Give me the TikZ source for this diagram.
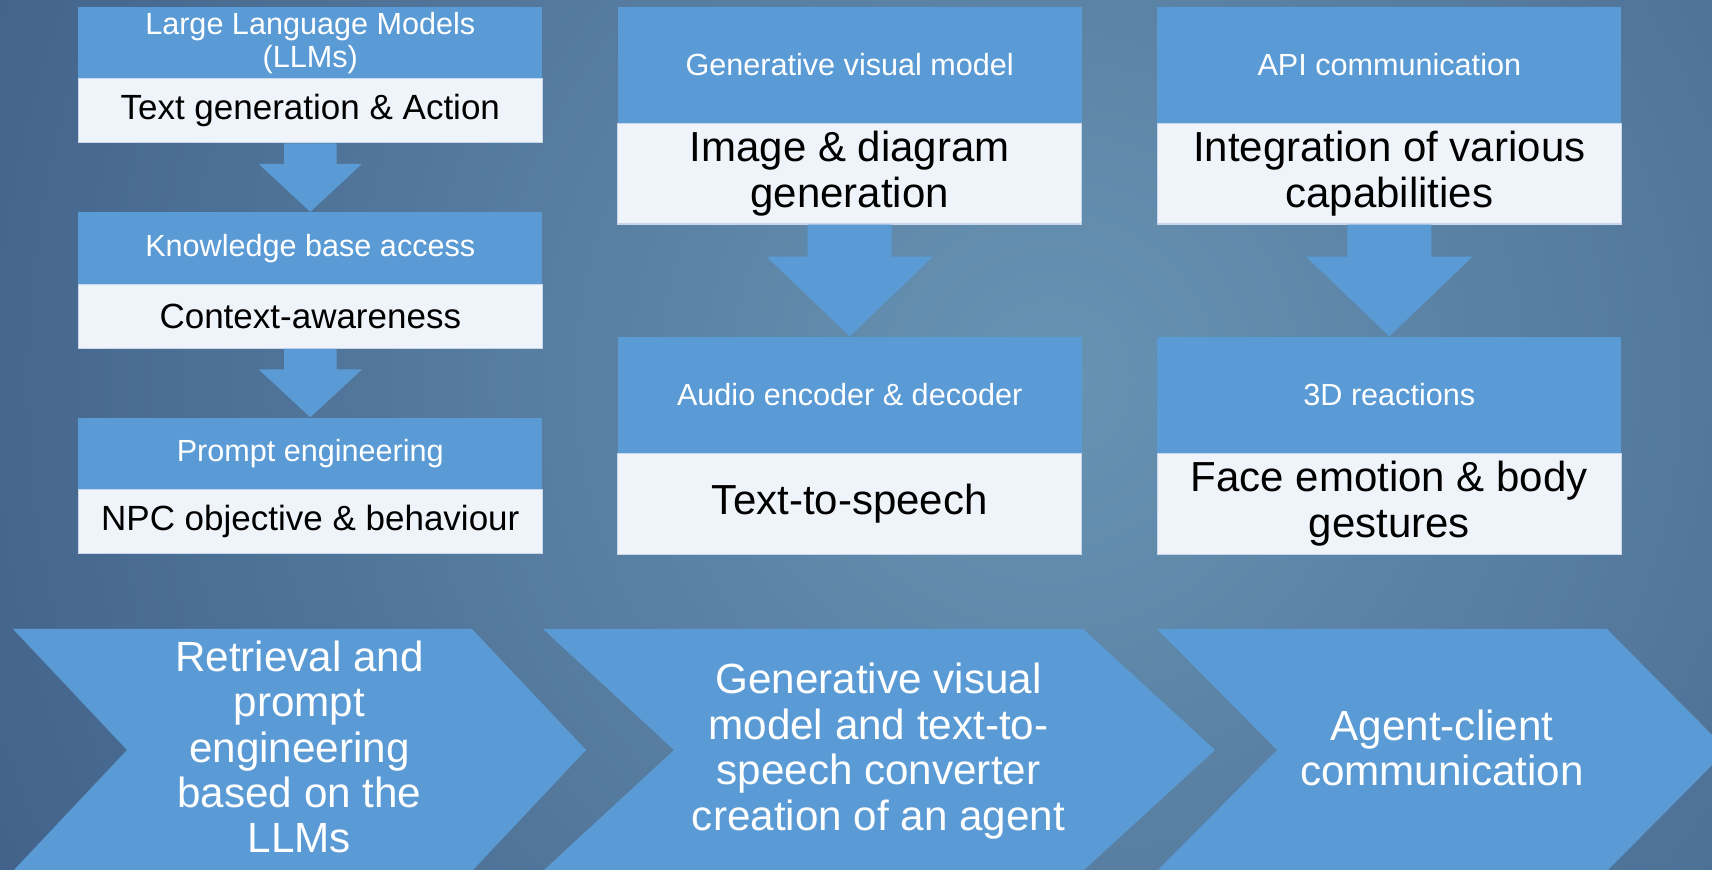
\documentclass[tikz,border=0pt]{standalone}
\usepackage{fontspec}
\setmainfont{Liberation Sans}
\usetikzlibrary{calc}
\definecolor{bgin}{HTML}{6893B3}
\definecolor{bgout}{HTML}{34507A}
\definecolor{hdr}{HTML}{5B9BD5}
\definecolor{wfill}{HTML}{EFF3FA}
\definecolor{wline}{HTML}{C8D6EA}
\pgfdeclareradialshading{bgshade}{\pgfpoint{0bp}{0bp}}{color(0bp)=(bgin); color(20bp)=(bgout); color(50bp)=(bgout)}
\newcommand\blkarrow[5]{%
  \fill[blk] ($(#1.south)+(-#3,0)$) -- ($(#1.south)+(-#3,#5)$) -- ($(#1.south)+(-#4,#5)$)
    -- (#2.north) -- ($(#1.south)+(#4,#5)$) -- ($(#1.south)+(#3,#5)$) -- ($(#1.south)+(#3,0)$) -- cycle;}
\tikzset{
  hdrbox/.style={fill=hdr, text=white, inner sep=0pt, align=center, minimum width=232pt},
  whbox/.style={fill=wfill, draw=wline, line width=0.6pt, text=black, inner sep=0pt, align=center, minimum width=232pt},
  blk/.style={fill=hdr},
  chev/.style={fill=hdr},
  chevtext/.style={text=white, align=center, font=\fontsize{21.1}{22.7}\selectfont},
  smallhdr/.style={minimum height=36pt, font=\fontsize{15.3}{16.5}\selectfont},
  smallwh/.style={minimum height=32pt, font=\fontsize{17.5}{20}\selectfont},
  bighdr/.style={minimum height=58.3pt, font=\fontsize{15.3}{18}\selectfont},
  bigwh/.style={minimum height=50.4pt, font=\fontsize{21}{23}\selectfont},
}
\begin{document}
\begin{tikzpicture}[x=0.5pt,y=-0.5pt]
\useasboundingbox (0,0) rectangle (1712,870);
\fill[bgout] (0,0) rectangle (1712,870);
\begin{scope}
  \clip (0,0) rectangle (1712,870);
  \shade[shading=bgshade] (1050,380) circle[radius=2000];
\end{scope}

% left column
\node[hdrbox,smallhdr] (lh1) at (310.3,42.7) {Large Language Models\\(LLMs)};
\node[whbox,smallwh] (lw1) at (310.3,110.7) {Text generation \& Action};
\node[hdrbox,smallhdr] (lh2) at (310.3,248.2) {Knowledge base access};
\node[whbox,smallwh] (lw2) at (310.3,316.2) {Context-awareness};
\node[hdrbox,smallhdr] (lh3) at (310.3,453.7) {Prompt engineering};
\node[whbox,smallwh] (lw3) at (310.3,521.7) {NPC objective \& behaviour};
\blkarrow{lw1}{lh2}{26.3}{51.7}{20.6}
\blkarrow{lw2}{lh3}{26.3}{51.7}{20.6}

% middle column
\node[hdrbox,bighdr] (mh1) at (849.7,65) {Generative visual model};
\node[whbox,bigwh] (mw1) at (849.7,173.65) {Image \& diagram\\generation};
\node[hdrbox,bighdr] (mh2) at (849.7,395) {Audio encoder \& decoder};
\node[whbox,bigwh] (mw2) at (849.7,503.8) {Text-to-speech};
\blkarrow{mw1}{mh2}{42}{83.3}{32}

% right column
\node[hdrbox,bighdr] (rh1) at (1389.3,65) {API communication};
\node[whbox,bigwh] (rw1) at (1389.3,173.65) {Integration of various\\capabilities};
\node[hdrbox,bighdr] (rh2) at (1389.3,395) {3D reactions};
\node[whbox,bigwh] (rw2) at (1389.3,503.8) {Face emotion \& body\\gestures};
\blkarrow{rw1}{rh2}{42}{83.3}{32}

% chevrons
\fill[chev] (13,629) -- (472,629) -- (586,750) -- (472,871) -- (13,871) -- (127,750) -- cycle;
\fill[chev] (543,629) -- (1083,629) -- (1215,750) -- (1083,871) -- (543,871) -- (674,750) -- cycle;
\fill[chev] (1157,629) -- (1607,629) -- (1727,750) -- (1607,871) -- (1157,871) -- (1277,750) -- cycle;
\node[chevtext] (c1) at (299.5,747) {Retrieval and\\prompt\\engineering\\based on the\\LLMs};
\node[chevtext] (c2) at (878.5,751) {Generative visual\\model and text-to-\\speech converter\\creation of an agent};
\node[chevtext] (c3) at (1442,748) {Agent-client\\communication};
\end{tikzpicture}
\end{document}
